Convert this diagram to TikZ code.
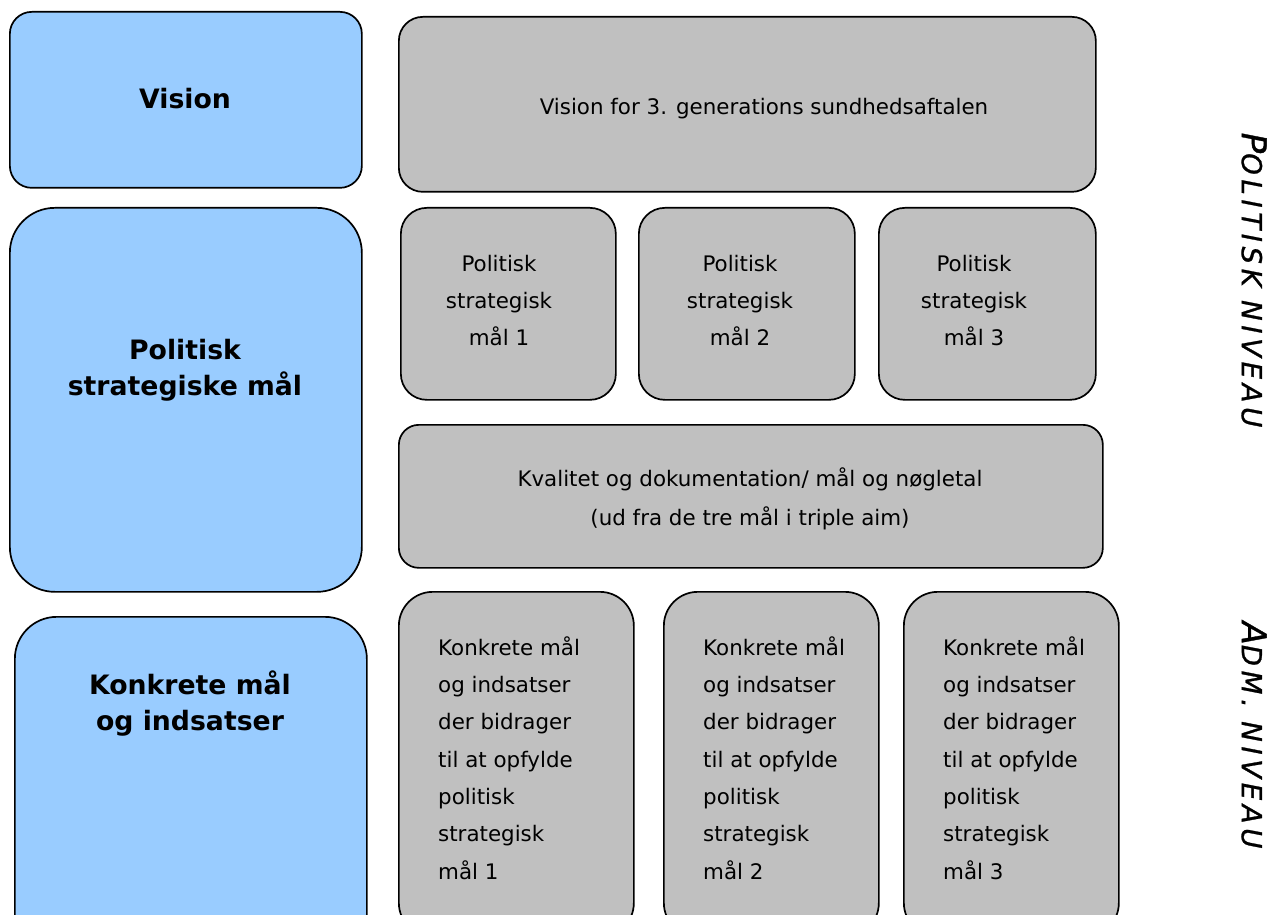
\documentclass[tikz,border=0pt]{standalone}
\usepackage{fontspec}
\setmainfont{DejaVu Sans}
\newfontfamily\sidefont[LetterSpace=17,FakeBold=1]{DejaVu Sans}
\definecolor{lblue}{HTML}{99CCFF}
\definecolor{lgray}{HTML}{C0C0C0}
\tikzset{
  bluebox/.style={draw=black, line width=1.7pt, fill=lblue, inner sep=0pt, anchor=north west},
  graybox/.style={draw=black, line width=1.7pt, fill=lgray, inner sep=0pt, anchor=north west},
  boldlbl/.style={font=\fontsize{26.7}{36}\selectfont\bfseries, align=center, inner sep=0pt},
  txt/.style={font=\fontsize{21.4}{37}\selectfont, align=center, inner sep=0pt},
  ltxt/.style={font=\fontsize{21.4}{37.3}\selectfont, align=left, inner sep=0pt, anchor=west},
  side/.style={rotate=-90, inner sep=0pt}
}
\newcommand\fakesc[2]{{\sidefont\itshape\fontsize{34}{34}\selectfont #1\fontsize{27.5}{28}\selectfont #2}}
\begin{document}
\begin{tikzpicture}[x=1pt,y=-1pt]
\useasboundingbox (0,0) rectangle (1278,915);
\clip (0,0) rectangle (1278,915);
% left column
\node[bluebox, rounded corners=22pt, minimum width=352pt, minimum height=176pt] (bvis) at (9,11) {};
\node[bluebox, rounded corners=45pt, minimum width=352pt, minimum height=384pt] (bpol) at (9,207) {};
\node[bluebox, rounded corners=42pt, minimum width=352pt, minimum height=340pt] (bkon) at (14,616) {};
\node[boldlbl] (tvis) at (185,99) {Vision};
\node[boldlbl] (tpol) at (185,370) {Politisk\\strategiske mål};
\node[boldlbl] (tkon) at (190,704) {Konkrete mål\\og indsatser};
% gray boxes
\node[graybox, rounded corners=24pt, minimum width=697pt, minimum height=175pt] (gvis) at (398,16) {};
\node[txt] (tgvis) at (764,109) {Vision for 3. generations sundhedsaftalen};
\node[graybox, rounded corners=26pt, minimum width=215pt, minimum height=192pt] (g1) at (400,207) {};
\node[graybox, rounded corners=26pt, minimum width=216pt, minimum height=192pt] (g2) at (638,207) {};
\node[graybox, rounded corners=26pt, minimum width=217pt, minimum height=192pt] (g3) at (878,207) {};
\node[txt] (tg1) at (499,301) {Politisk\\strategisk\\mål 1};
\node[txt] (tg2) at (740,301) {Politisk\\strategisk\\mål 2};
\node[txt] (tg3) at (974,301) {Politisk\\strategisk\\mål 3};
\node[graybox, rounded corners=20pt, minimum width=704pt, minimum height=143pt] (gkv) at (398,424) {};
\node[txt, font=\fontsize{21.4}{39}\selectfont] (tkv) at (750,499) {Kvalitet og dokumentation/ mål og nøgletal\\(ud fra de tre mål i triple aim)};
\node[graybox, rounded corners=34pt, minimum width=235pt, minimum height=345pt] (k1) at (398,591) {};
\node[graybox, rounded corners=34pt, minimum width=215pt, minimum height=345pt] (k2) at (663,591) {};
\node[graybox, rounded corners=34pt, minimum width=215pt, minimum height=345pt] (k3) at (903,591) {};
\node[ltxt] (tk1) at (438,758) {Konkrete mål\\og indsatser\\der bidrager\\til at opfylde\\politisk\\strategisk\\mål 1};
\node[ltxt] (tk2) at (703,758) {Konkrete mål\\og indsatser\\der bidrager\\til at opfylde\\politisk\\strategisk\\mål 2};
\node[ltxt] (tk3) at (943,758) {Konkrete mål\\og indsatser\\der bidrager\\til at opfylde\\politisk\\strategisk\\mål 3};
% side labels
\node[side] (spol) at (1254,280) {\fakesc{P}{OLITISK NIVEAU}};
\node[side] (sadm) at (1254,735) {\fakesc{A}{DM. NIVEAU}};
\end{tikzpicture}
\end{document}
